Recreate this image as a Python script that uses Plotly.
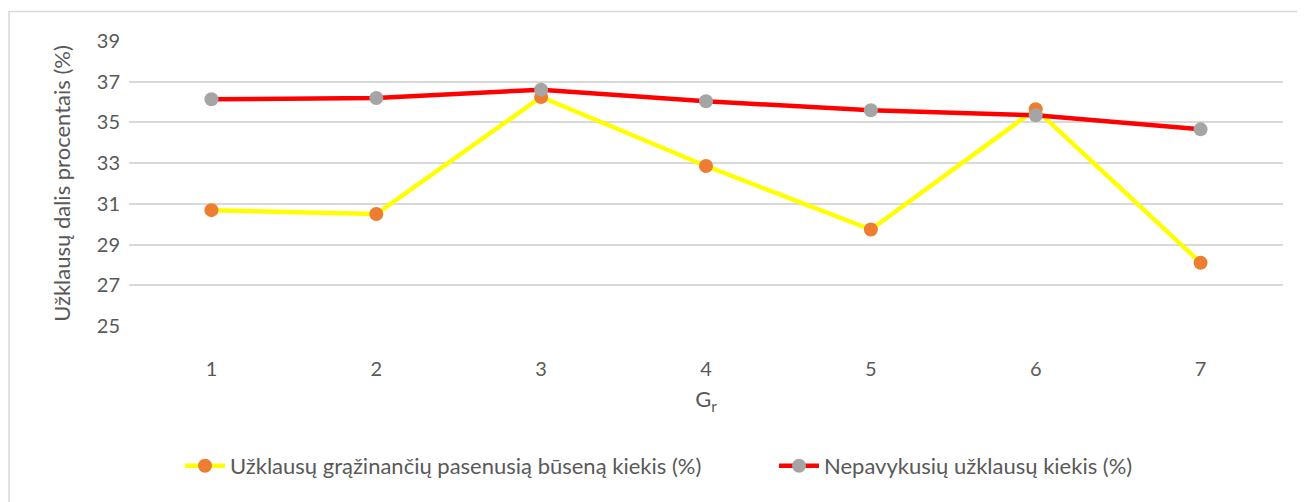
import plotly.graph_objects as go

categories = [1, 2, 3, 4, 5, 6, 7]
stale_share = [30.69, 30.5, 36.25, 32.86, 29.74, 35.65, 28.11]
failed_share = [36.14, 36.2, 36.61, 36.04, 35.6, 35.35, 34.66]
y_ticks = [25, 27, 29, 31, 33, 35, 37, 39]

name_stale = "Užklausų grąžinančių pasenusią būseną kiekis (%)"
name_failed = "Nepavykusių užklausų kiekis (%)"

FONT = "Lato"
TXT = "#595959"

# page body has an 8px margin, so the figure is 8px smaller than the window
W, H = 1297, 494
L, R, T, B = 121, 22, 33, 176
PW = W - L - R
PH = H - T - B

fig = go.Figure()
fig.add_trace(go.Scatter(
    x=categories, y=stale_share, mode="lines+markers", name=name_stale,
    line=dict(color="#FFFF00", width=4.5),
    marker=dict(color="#ED7D31", size=14),
    legend="legend",
))
fig.add_trace(go.Scatter(
    x=categories, y=failed_share, mode="lines+markers", name=name_failed,
    line=dict(color="#FF0000", width=4.5),
    marker=dict(color="#A5A5A5", size=14),
    legend="legend2",
))

leg_common = dict(orientation="h", xanchor="left", y=-140 / PH, yanchor="middle",
                  font=dict(size=22, color=TXT), itemwidth=40,
                  bgcolor="rgba(0,0,0,0)")

fig.update_layout(
    width=W, height=H,
    margin=dict(l=L, r=R, t=T, b=B),
    plot_bgcolor="white", paper_bgcolor="white",
    font=dict(family=FONT, color=TXT, size=20),
    showlegend=True,
    legend=dict(x=51 / PW, **leg_common),
    legend2=dict(x=(800 - 20 - L - 14) / PW, **leg_common),
    xaxis=dict(
        range=[0.5, 7.5], tickmode="array", tickvals=categories,
        ticktext=[str(c) for c in categories],
        showgrid=False, zeroline=False, showline=False, ticks="",
        ticklabelstandoff=29,
        tickfont=dict(size=20, color=TXT),
        title=dict(text="G<sub>r</sub>", font=dict(size=22, color=TXT), standoff=12),
    ),
    yaxis=dict(
        range=[25, 39], tickmode="array", tickvals=y_ticks,
        showgrid=True, gridcolor="#D9D9D9", gridwidth=1.5, zeroline=False,
        showline=False, ticks="", ticklabelstandoff=8,
        tickfont=dict(size=20, color=TXT),
        title=dict(text="Užklausų dalis procentais (%)", font=dict(size=22, color=TXT), standoff=20),
    ),
    shapes=[
        dict(type="rect", xref="paper", yref="paper",
             x0=(1 - L) / PW, x1=(W + 20 - L) / PW,
             y0=-(B + 30) / PH, y1=(PH + T - 3.5) / PH,
             line=dict(color="#D9D9D9", width=1.5), fillcolor="rgba(0,0,0,0)", layer="below"),
    ],
)

fig.write_html("out.html")
